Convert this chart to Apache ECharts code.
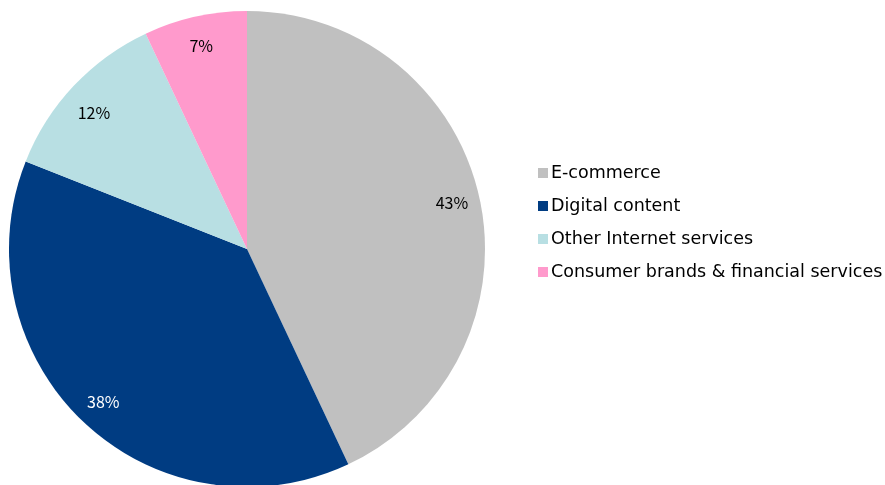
<!DOCTYPE html>
<html><head><meta charset="utf-8">
<script src="https://cdn.jsdelivr.net/npm/echarts@6/dist/echarts.min.js"></script>
<style>html,body{margin:0;padding:0;background:#fff}#c{width:885px;height:485px}</style>
</head><body><div id="c"></div>
<script>
var categories = ['E-commerce', 'Digital content', 'Other Internet services', 'Consumer brands & financial services'];
var shares = [43, 38, 12, 7];
var colors = ['#C0C0C0', '#003C82', '#B8DFE3', '#FF9ACC'];
var labelColors = ['#000', '#fff', '#000', '#000'];

var FONT = '"Noto Sans CJK JP", "Noto Sans", sans-serif';
var LEGEND_FONT = '"DejaVu Sans", sans-serif';
var chart = echarts.init(document.getElementById('c'));
var mainData = categories.map(function (n, i) {
  return { name: n, value: shares[i], itemStyle: { color: colors[i] } };
});
var labelData = categories.map(function (n, i) {
  var d = { name: 'lbl' + i, value: shares[i],
    itemStyle: { color: 'rgba(0,0,0,0)' },
    label: { color: labelColors[i] } };
  if (i === 2) d.label.offset = [0, 8];
  if (i === 3) d.label.offset = [0, 2];
  return d;
});
chart.setOption({
  animation: false,
  legend: {
    data: categories,
    orient: 'vertical',
    left: 533,
    top: 158,
    itemWidth: 10,
    itemHeight: 10,
    itemGap: 13,
    icon: 'rect',
    textStyle: { fontFamily: LEGEND_FONT, fontSize: 17.5, color: '#000', lineHeight: 20, padding: [0, 0, 0, -2] }
  },
  series: [{
    type: 'pie',
    center: [247, 249],
    radius: [0, 238],
    startAngle: 90,
    clockwise: true,
    label: { show: false },
    labelLine: { show: false },
    itemStyle: { borderWidth: 0 },
    emphasis: { disabled: true },
    data: mainData
  }, {
    type: 'pie',
    center: [247, 249],
    radius: [176, 238],
    startAngle: 90,
    clockwise: true,
    silent: true,
    label: { show: true, position: 'inside', formatter: '{c}%', fontFamily: FONT, fontSize: 16 },
    labelLine: { show: false },
    emphasis: { disabled: true },
    data: labelData
  }]
});
</script></body></html>
